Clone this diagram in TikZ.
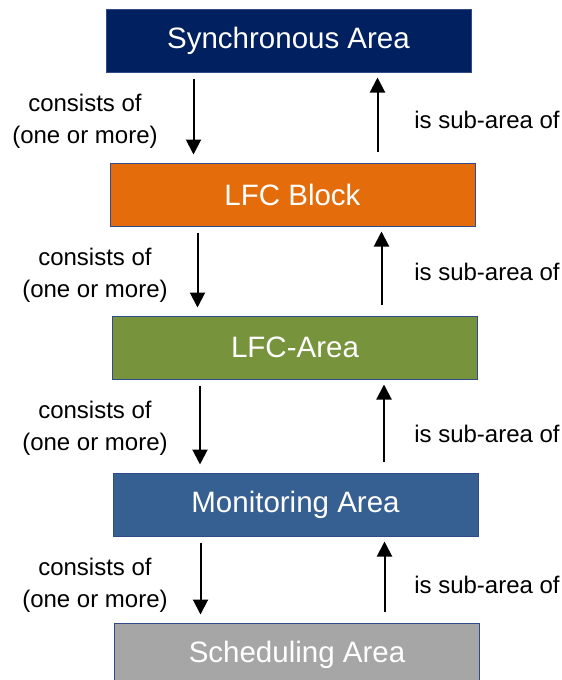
\documentclass[tikz,border=0pt]{standalone}
\usepackage{fontspec}
\setmainfont{Liberation Sans}
\usetikzlibrary{arrows.meta}
\definecolor{syncblue}{HTML}{002060}
\definecolor{lfcorange}{HTML}{E46C0A}
\definecolor{lfcgreen}{HTML}{77933C}
\definecolor{monblue}{HTML}{376092}
\definecolor{schedgray}{HTML}{A6A6A6}
\definecolor{boxline}{HTML}{2F4B8A}
\tikzset{
  area/.style={draw=boxline, line width=1pt, minimum width=365pt, minimum height=63pt,
    inner sep=0pt, text=white, font=\fontsize{29.5}{35}\selectfont},
  rel/.style={font=\fontsize{24}{32}\selectfont, align=center},
  link/.style={line width=2pt, -{Triangle[width=15pt,length=15pt]}},
}
\begin{document}
\begin{tikzpicture}[x=1pt,y=-1pt]
    \useasboundingbox (0,0) rectangle (562,680);
    \clip (0,0) rectangle (562,680);
    % boxes
    \node[area, fill=syncblue]  (sync)  at (288.5,40.5) {Synchronous Area};
    \node[area, fill=lfcorange] (lfcb)  at (292.5,194.5) {LFC Block};
    \node[area, fill=lfcgreen]  (lfca)  at (295,347.5) {LFC-Area};
    \node[area, fill=monblue]   (mon)   at (295.5,504.5) {Monitoring Area};
    \node[area, fill=schedgray] (sched) at (297,654.5) {Scheduling Area};
    % labels
    \node[rel] (cons1) at (85,121) {consists of\\(one or more)};
    \node[rel] (cons2) at (95,275.5) {consists of\\(one or more)};
    \node[rel] (cons3) at (95,428.5) {consists of\\(one or more)};
    \node[rel] (cons4) at (95,585) {consists of\\(one or more)};
    \node[rel] (sub1) at (487,120) {is sub-area of};
    \node[rel] (sub2) at (487,272) {is sub-area of};
    \node[rel] (sub3) at (487,434) {is sub-area of};
    \node[rel] (sub4) at (487,585) {is sub-area of};
    % arrow feet
    \coordinate (down1) at ([xshift=88pt]sync.south west);
    \coordinate (down2) at ([xshift=88pt]lfcb.south west);
    \coordinate (down3) at ([xshift=88pt]lfca.south west);
    \coordinate (down4) at ([xshift=88pt]mon.south west);
    \coordinate (up1) at ([xshift=-94pt]sync.south east);
    \coordinate (up2) at ([xshift=-94pt]lfcb.south east);
    \coordinate (up3) at ([xshift=-94pt]lfca.south east);
    \coordinate (up4) at ([xshift=-94pt]mon.south east);
    % consists of
    \draw[link, shorten <=6pt, shorten >=8pt] (down1) -- (down1 |- lfcb.north);
    \draw[link, shorten <=6pt, shorten >=8pt] (down2) -- (down2 |- lfca.north);
    \draw[link, shorten <=6pt, shorten >=8pt] (down3) -- (down3 |- mon.north);
    \draw[link, shorten <=6pt, shorten >=8pt] (down4) -- (down4 |- sched.north);
    % is sub-area of
    \draw[link, shorten <=11pt, shorten >=5pt] (up1 |- lfcb.north) -- (up1);
    \draw[link, shorten <=11pt, shorten >=5pt] (up2 |- lfca.north) -- (up2);
    \draw[link, shorten <=11pt, shorten >=5pt] (up3 |- mon.north) -- (up3);
    \draw[link, shorten <=11pt, shorten >=5pt] (up4 |- sched.north) -- (up4);
\end{tikzpicture}
\end{document}
